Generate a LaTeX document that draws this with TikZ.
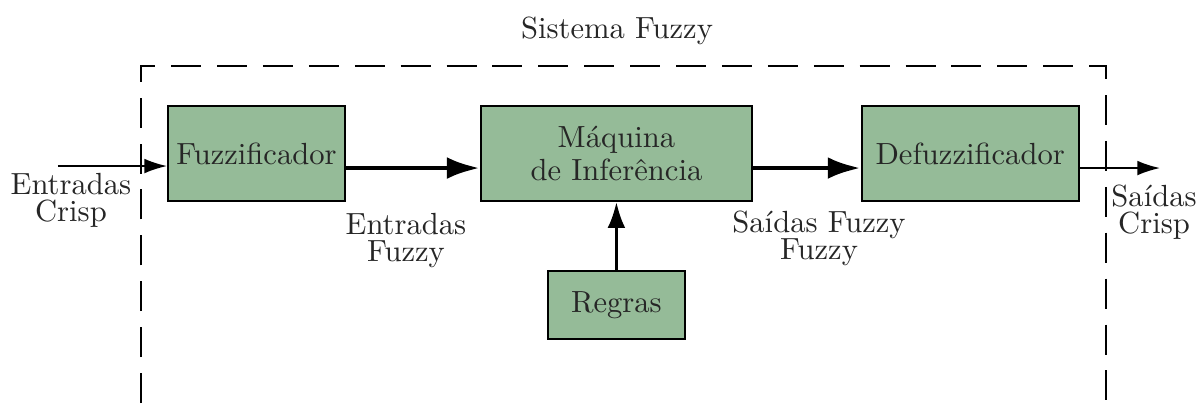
\documentclass[tikz,border=0pt]{standalone}
\usepackage{fontspec}
\usepackage{tikz}
\usetikzlibrary{arrows.meta,positioning}
\definecolor{boxgreen}{RGB}{149,187,152}

\begin{document}
\begin{tikzpicture}
  [>={Latex[length=7.4pt,width=4.8pt]},
  every node/.style={text=black!85,font=\fontsize{10}{8.9}\selectfont},
  block/.style={draw=black,semithick,fill=boxgreen,minimum height=1.091cm,inner sep=2pt,align=center},
  thin flow/.style={->,semithick},
  main flow/.style={-{Latex[length=10.8pt,width=7.1pt]},line width=1.6pt},
  frame/.style={semithick,dash pattern=on 9.8pt off 5.2pt}]
  \useasboundingbox (0,0) rectangle (13.783,-4.629);
  \node [block,minimum width=2.033cm] (fuzz) at (2.946,-1.763) {Fuzzificador};
  \node [block,minimum width=3.113cm,font=\fontsize{10}{10.5}\selectfont] (maq) [right=1.54cm of fuzz] {Máquina\\de Inferência};
  \node [block,minimum width=2.492cm] (defuzz) [right=1.24cm of maq] {Defuzzificador};
  \node [block,minimum width=1.574cm,minimum height=0.781cm] (regras) [below=0.78cm of maq] {Regras};

  \coordinate (inp) at (0.666,-1.907);
  \coordinate (out) at (13.324,-1.93);
  \draw [thin flow] (inp) -- (inp -| fuzz.west);
  \draw [main flow] ([yshift=-0.167cm]fuzz.east) -- ([yshift=-0.167cm]maq.west);
  \draw [main flow] ([yshift=-0.167cm]maq.east) -- ([yshift=-0.167cm]defuzz.west);
  \draw [thin flow] ([yshift=-0.167cm]defuzz.east) -- (out);
  \draw [-{Latex[length=8.5pt,width=5.8pt]},line width=1pt] (regras) -- (maq);

  \node (sist) at (7.087,-0.356) {Sistema Fuzzy};
  \node [align=center] (ecrisp) at (0.815,-2.297) {Entradas\\Crisp};
  \node [align=center] (efuzzy) at (4.663,-2.762) {Entradas\\Fuzzy};
  \node [align=center] (sfuzzy) at (9.407,-2.734) {Saídas Fuzzy\\Fuzzy};
  \node [align=center] (scrisp) at (13.255,-2.44) {Saídas\\Crisp};

  \draw [frame] (1.6195,-4.629) |- (12.7035,-0.758) -- (12.7035,-4.629);
\end{tikzpicture}
\end{document}
